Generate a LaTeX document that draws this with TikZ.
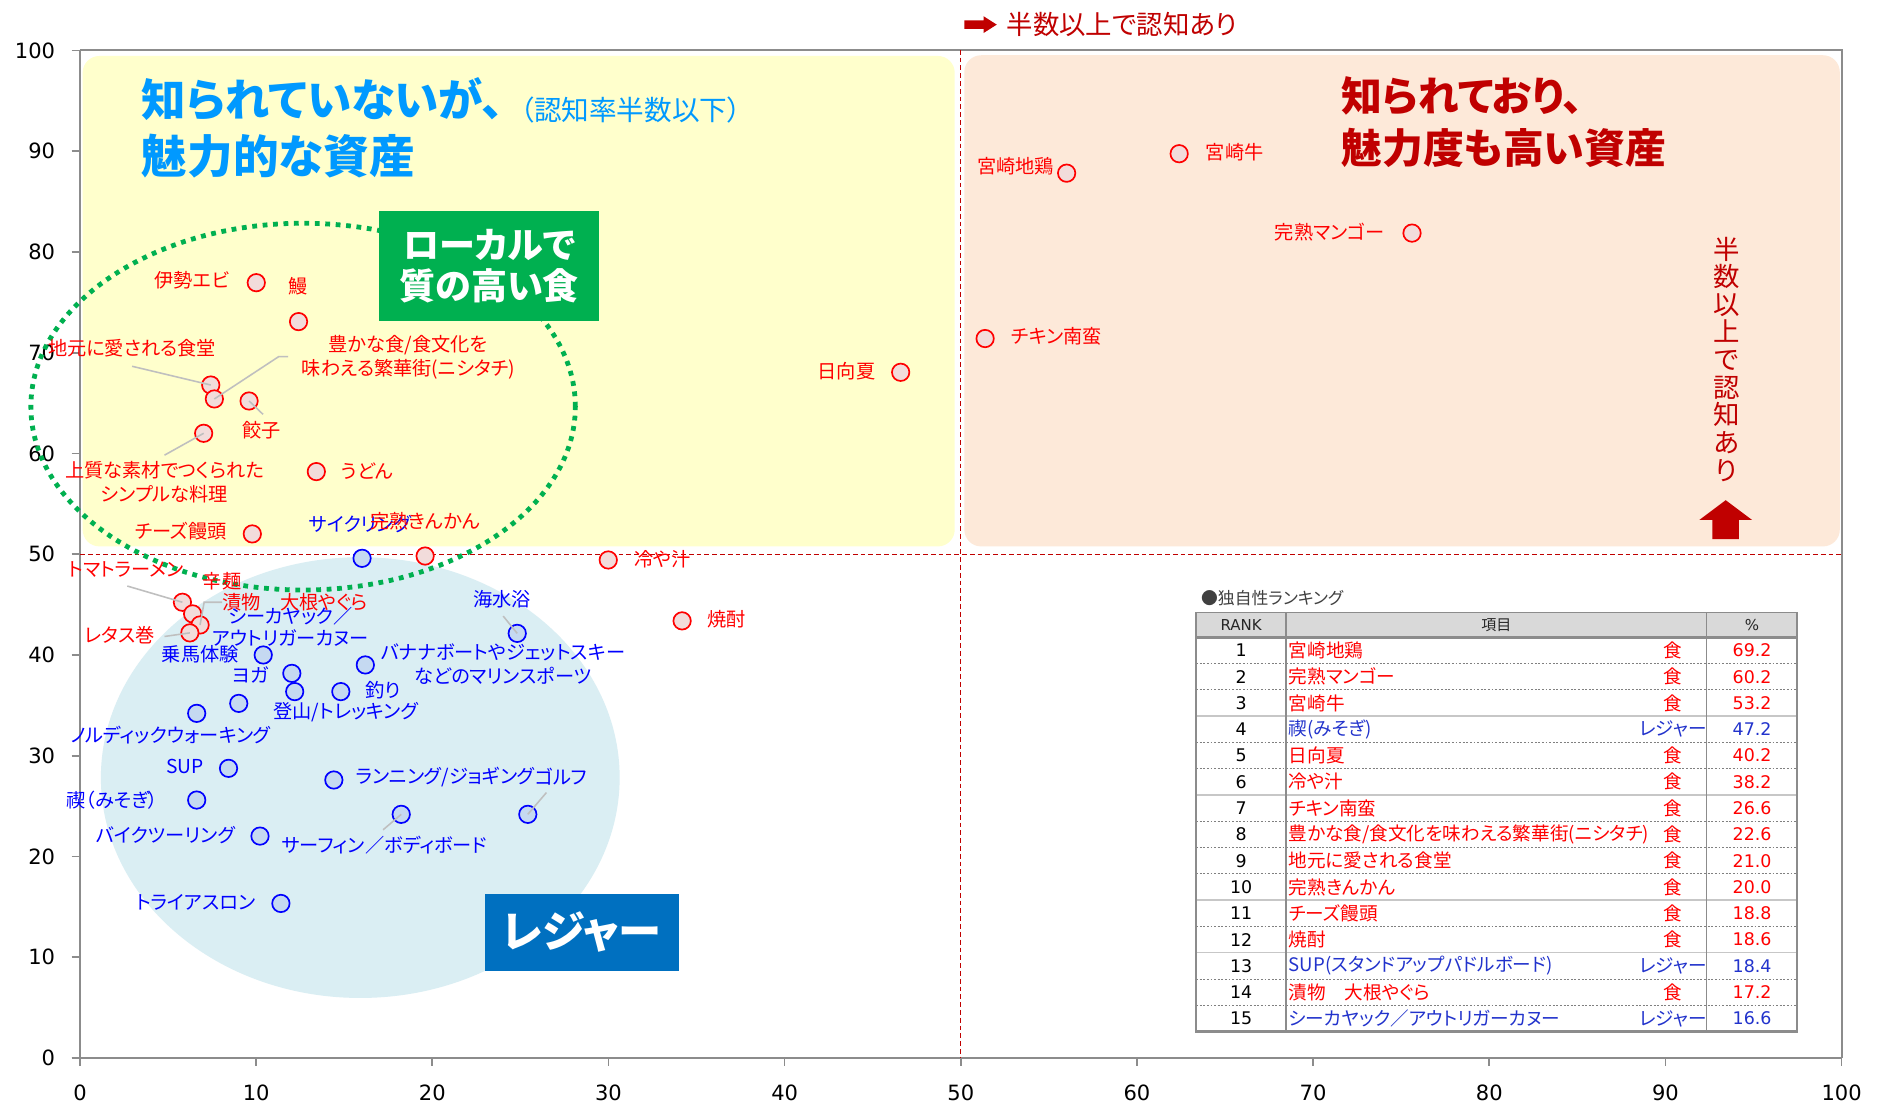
\documentclass[tikz,border=0pt]{standalone}
\usepackage{fontspec}
\setmainfont{Noto Sans CJK JP}[RawFeature={+palt}]
\newfontfamily\dvs{DejaVu Sans}
\definecolor{yelbg}{HTML}{FFFFCC}
\definecolor{peachbg}{HTML}{FDE9D9}
\definecolor{leisbg}{HTML}{DAEEF3}
\definecolor{greenbox}{HTML}{00B050}
\definecolor{bluebox}{HTML}{0070C0}
\definecolor{titleblue}{HTML}{0099FF}
\definecolor{darkred}{HTML}{C00000}
\definecolor{labred}{HTML}{FF0000}
\definecolor{labblue}{HTML}{0000FF}
\definecolor{tabblue}{HTML}{2233CC}
\definecolor{ptred}{HTML}{F2DCDB}
\definecolor{ptblue}{HTML}{C5D9F1}
\definecolor{axgray}{HTML}{8C8C8C}
\definecolor{leadgray}{HTML}{BFBFBF}
\definecolor{hdrgray}{HTML}{D9D9D9}
\definecolor{txtgray}{HTML}{404040}
\newcommand\tabrow[5]{%
  \pgfmathsetmacro\ry{530.7+21.89*(#1-0.5)}
  \node[tnum] (rk#1) at (1033.5,\ry) {#1};
  \node[titem, text=#5, anchor=west] (it#1) at (1073,\ry) {#2};
  \node[titem, text=#5] (ct#1) at (1393,\ry) {#3};
  \node[tnum, text=#5] (pc#1) at (1459,\ry) {#4};
}
\begin{document}
\begin{tikzpicture}[x=1pt,y=-1pt,
  rpt/.style={circle, draw=labred, fill=ptred, line width=1.4pt, minimum size=14.5pt, inner sep=0pt},
  bpt/.style={circle, draw=labblue, fill=ptblue, line width=1.4pt, minimum size=14.5pt, inner sep=0pt},
  rlab/.style={text=labred, font=\fontsize{16}{20}\selectfont, inner sep=0pt, align=center},
  blab/.style={text=labblue, font=\fontsize{16}{20}\selectfont, inner sep=0pt, align=center},
  leader/.style={draw=leadgray, line width=1.3pt},
  axlab/.style={font=\dvs\fontsize{17.5}{20}\selectfont, inner sep=0pt},
  tnum/.style={font=\dvs\fontsize{14.5}{17}\selectfont, inner sep=0pt, text=black},
  titem/.style={font=\fontsize{15.5}{18}\selectfont, inner sep=0pt},
  thead/.style={font=\fontsize{12.5}{15}\selectfont, inner sep=0pt, text=black!85}
]
\useasboundingbox (0,0) rectangle (1568,921);
\fill[white] (0,0) rectangle (1568,921);

% quadrant backgrounds
\fill[yelbg, rounded corners=14pt] (68.8,46.6) rectangle (795,455);
\fill[peachbg, rounded corners=14pt] (803,46) rectangle (1532,455);
\fill[leisbg] (300,647.5) ellipse [x radius=216pt, y radius=183.5pt];

% axes
\draw[axgray, line width=1.6pt] (66.6,41.5) -- (1533.5,41.5) -- (1533.5,881);
\draw[axgray, line width=1.4pt] (66.6,41.5) -- (66.6,881);
\foreach \v in {0,10,...,100} {
  \pgfmathsetmacro\yy{881-8.39*\v}
  \pgfmathsetmacro\xx{66.6+14.669*\v}
  \draw[axgray, line width=1.4pt] (59.6,\yy) -- (66.6,\yy);
  \draw[axgray, line width=1.4pt] (\xx,881) -- (\xx,888);
  \node[axlab, anchor=east] (yl\v) at (46,\yy) {\v};
  \node[axlab] (xl\v) at (\xx,910) {\v};
}
\draw[axgray, line width=2.4pt] (59.6,881) -- (1533.5,881);

% half lines
\draw[darkred, line width=1pt, dash pattern=on 4pt off 2.5pt] (800,41.5) -- (800,881);
\draw[darkred, line width=1pt, dash pattern=on 4pt off 2.5pt] (66.6,461.5) -- (1533.5,461.5);

% dotted local food ellipse
\draw[greenbox, line width=4pt, dash pattern=on 4pt off 4.7pt] (252.4,338.6) ellipse [x radius=226.7pt, y radius=152.7pt];

% category boxes
\node[fill=greenbox, minimum width=183pt, minimum height=91pt, inner sep=0pt, text=white, align=center,
  font=\bfseries\fontsize{30}{34}\selectfont] (gbox) at (407.5,221.5) {ローカルで\\質の高い食};
\node[fill=bluebox, minimum width=161pt, minimum height=64.5pt, inner sep=0pt, text=white,
  font=\bfseries\fontsize{36}{40}\selectfont] (bbox) at (484.5,776.3) {レジャー};

% titles
\node[text=titleblue, font=\bfseries\fontsize{37}{42}\selectfont, anchor=west, inner sep=0pt] (tb1) at (118,83) {知られていないが、};
\node[text=titleblue, font=\fontsize{23}{25}\selectfont, anchor=west, inner sep=0pt] (tb2) at (433,92) {（認知率半数以下）};
\node[text=titleblue, font=\bfseries\fontsize{38}{42}\selectfont, anchor=west, inner sep=0pt] (tb3) at (118,130) {魅力的な資産};
\node[text=darkred, font=\bfseries\fontsize{34}{38}\selectfont, anchor=west, inner sep=0pt] (tr1) at (1117,80) {知られており、};
\node[text=darkred, font=\bfseries\fontsize{34}{38}\selectfont, anchor=west, inner sep=0pt] (tr2) at (1117,123) {魅力度も高い資産};

% top note and arrows
\fill[darkred] (803,17) -- (819,17) -- (819,13.5) -- (830,20.5) -- (819,27.5) -- (819,24) -- (803,24) -- cycle;
\node[text=darkred, font=\fontsize{22}{24}\selectfont, anchor=west, inner sep=0pt] (topnote) at (838,20) {半数以上で認知あり};
\node[text=darkred, font=\fontsize{22}{23}\selectfont, align=center, inner sep=0pt] (vnote) at (1437.6,299) {半\\数\\以\\上\\で\\認\\知\\あ\\り};
\fill[darkred] (1426,449) -- (1426,433) -- (1415,433) -- (1437,416.5) -- (1459,433) -- (1448,433) -- (1448,449) -- cycle;

% blue points (leisure)
\node[bpt] (b1) at (301.5,464.9) {};
\node[bpt] (b2) at (430.7,527.4) {};
\node[bpt] (b3) at (219.2,545.4) {};
\node[bpt] (b4) at (243.0,560.7) {};
\node[bpt] (b5) at (304.2,553.7) {};
\node[bpt] (b6) at (245.4,575.9) {};
\node[bpt] (b7) at (283.8,575.9) {};
\node[bpt] (b8) at (198.8,585.7) {};
\node[bpt] (b9) at (163.8,594.0) {};
\node[bpt] (b10) at (190.3,639.8) {};
\node[bpt] (b11) at (163.8,666.2) {};
\node[bpt] (b12) at (278.0,649.5) {};
\node[bpt] (b13) at (334.1,678.1) {};
\node[bpt] (b14) at (439.5,678.1) {};
\node[bpt] (b15) at (216.5,696.2) {};
\node[bpt] (b16) at (233.9,752.3) {};

% red points (food)
\node[rpt] (r1) at (888.2,144.2) {};
\node[rpt] (r2) at (981.9,128) {};
\node[rpt] (r3) at (1175.8,194.1) {};
\node[rpt] (r4) at (820.3,281.9) {};
\node[rpt] (r5) at (750,310) {};
\node[rpt] (r6) at (506.5,466.3) {};
\node[rpt] (r7) at (568,517) {};
\node[rpt] (r8) at (354,463) {};
\node[rpt] (r9) at (213.4,235.4) {};
\node[rpt] (r10) at (248.6,267.8) {};
\node[rpt] (r11) at (175.5,320.6) {};
\node[rpt] (r12) at (178.5,332.2) {};
\node[rpt] (r13) at (207.4,333.9) {};
\node[rpt] (r14) at (169.6,360.8) {};
\node[rpt] (r15) at (263.4,392.7) {};
\node[rpt] (r16) at (210.1,444.6) {};
\node[rpt] (r17) at (151.9,501.5) {};
\node[rpt] (r18) at (160.4,511.2) {};
\node[rpt] (r19) at (166.6,520.4) {};
\node[rpt] (r20) at (158.1,527) {};

% leader lines
\coordinate (la11) at (110,305);
\coordinate (la12a) at (240,297);
\coordinate (la12b) at (232,297);
\coordinate (la13) at (219,345);
\coordinate (la14) at (137,379);
\coordinate (la17) at (106,488);
\coordinate (la19a) at (185,501.5);
\coordinate (la19b) at (170,501.5);
\coordinate (la20) at (137,530);
\coordinate (lb2) at (419,513);
\coordinate (lb14) at (455,660);
\coordinate (lb13) at (319,691);
\draw[leader] (la11) -- (r11.center);
\draw[leader] (la12a) -- (la12b) -- (r12.center);
\draw[leader] (la13) -- (r13.center);
\draw[leader] (la14) -- (r14.center);
\draw[leader] (la17) -- (r17.center);
\draw[leader] (la19a) -- (la19b) -- (r19.center);
\draw[leader] (la20) -- (r20.center);
\draw[leader] (lb2) -- (b2.center);
\draw[leader] (lb14) -- (b14.center);
\draw[leader] (lb13) -- (b13.center);

% red labels
\node[rlab, anchor=east] (t1) at (878,138) {宮崎地鶏};
\node[rlab, anchor=west] (t2) at (1004,127) {宮崎牛};
\node[rlab, anchor=east] (t3) at (1153,193) {完熟マンゴー};
\node[rlab, anchor=west] (t4) at (842,280) {チキン南蛮};
\node[rlab, anchor=east] (t5) at (729,309) {日向夏};
\node[rlab, anchor=west] (t6) at (528,466) {冷や汁};
\node[rlab, anchor=west] (t7) at (589,516) {焼酎};
\node[rlab, anchor=east] (t9) at (191,233) {伊勢エビ};
\node[rlab] (t10) at (248,238) {鰻};
\node[rlab] (t11) at (110,290) {地元に愛される食堂};
\node[rlab] (t12) at (340,297.5) {豊かな食/食文化を\\味わえる繁華街(ニシタチ)};
\node[rlab] (t13) at (218,358) {餃子};
\node[rlab] (t14) at (137,401.5) {上質な素材でつくられた\\シンプルな料理};
\node[rlab, anchor=west] (t15) at (284,392) {うどん};
\node[rlab, anchor=east] (t16) at (189,442.5) {チーズ饅頭};
\node[rlab] (t17) at (105,474) {トマトラーメン};
\node[rlab] (t18) at (185,484) {辛麺};
\node[rlab, anchor=west] (t19) at (185,501.6) {漬物　大根やぐら};
\node[rlab, anchor=east] (t20) at (129,528.7) {レタス巻};

% blue labels
\node[blab] (s1) at (300,436) {サイクリング};
\node[rlab] (t8) at (354,434) {完熟きんかん};
\node[blab] (s2) at (418,499) {海水浴};
\node[blab, font=\fontsize{16}{20}\selectfont] (s3) at (419,553) {バナナボートやジェットスキー\\などのマリンスポーツ};
\node[blab, font=\fontsize{16}{18}\selectfont] (s4) at (242,522) {シーカヤック／\\アウトリガーカヌー};
\node[blab, anchor=east] (s5) at (199,545) {乗馬体験};
\node[blab, anchor=east] (s6) at (224,562) {ヨガ};
\node[blab, anchor=west] (s7) at (304,575) {釣り};
\node[blab] (s8) at (288,593) {登山/トレッキング};
\node[blab] (s9) at (142,612) {ノルディックウォーキング};
\node[blab, anchor=east] (s10) at (170,638) {SUP};
\node[blab, anchor=east] (s11) at (132,666) {禊（みそぎ）};
\node[blab, anchor=east] (s12) at (196,695) {バイクツーリング};
\node[blab, anchor=east] (s13) at (213,751) {トライアスロン};
\node[blab, anchor=west] (s14) at (296,647) {ランニング/ジョギング};
\node[blab, anchor=west] (s15) at (s14.east) {ゴルフ};
\node[blab] (s16) at (320,704) {サーフィン／ボディボード};

% ranking table
\node[text=txtgray, font=\fontsize{14}{16}\selectfont, anchor=west, inner sep=0pt] (tabtitle) at (1000,498) {●独自性ランキング};
\fill[hdrgray] (996,510) rectangle (1496,530.7);
\node[thead, font=\dvs\fontsize{12.5}{15}\selectfont] (hrank) at (1033.5,520.3) {RANK};
\node[thead] (hitem) at (1246,520.3) {項目};
\node[thead, font=\dvs\fontsize{12.5}{15}\selectfont] (hpct) at (1459,520.3) {\%};
\foreach \i in {1,2,4,5,7,8,9,11,13,14} {
  \pgfmathsetmacro\ly{530.7+21.89*\i}
  \draw[gray, line width=0.9pt, dash pattern=on 1.6pt off 1.4pt] (996,\ly) -- (1496,\ly);
}
\foreach \i in {3,6,10,12} {
  \pgfmathsetmacro\ly{530.7+21.89*\i}
  \draw[black!22, line width=1.2pt] (996,\ly) -- (1496,\ly);
}
\draw[axgray, line width=1.2pt] (1071,510) -- (1071,859);
\draw[axgray, line width=1.2pt] (1421,510) -- (1421,859);
\draw[axgray, line width=2pt] (996,530.7) -- (1496,530.7);
\draw[axgray, line width=1.6pt] (996,510) rectangle (1496,859);
\draw[axgray, line width=2.2pt] (996,859) -- (1496,859);
\tabrow{1}{宮崎地鶏}{食}{69.2}{labred}
\tabrow{2}{完熟マンゴー}{食}{60.2}{labred}
\tabrow{3}{宮崎牛}{食}{53.2}{labred}
\tabrow{4}{禊(みそぎ)}{レジャー}{47.2}{tabblue}
\tabrow{5}{日向夏}{食}{40.2}{labred}
\tabrow{6}{冷や汁}{食}{38.2}{labred}
\tabrow{7}{チキン南蛮}{食}{26.6}{labred}
\tabrow{8}{豊かな食/食文化を味わえる繁華街(ニシタチ)}{食}{22.6}{labred}
\tabrow{9}{地元に愛される食堂}{食}{21.0}{labred}
\tabrow{10}{完熟きんかん}{食}{20.0}{labred}
\tabrow{11}{チーズ饅頭}{食}{18.8}{labred}
\tabrow{12}{焼酎}{食}{18.6}{labred}
\tabrow{13}{SUP(スタンドアップパドルボード)}{レジャー}{18.4}{tabblue}
\tabrow{14}{漬物　大根やぐら}{食}{17.2}{labred}
\tabrow{15}{シーカヤック／アウトリガーカヌー}{レジャー}{16.6}{tabblue}
\end{tikzpicture}
\end{document}
